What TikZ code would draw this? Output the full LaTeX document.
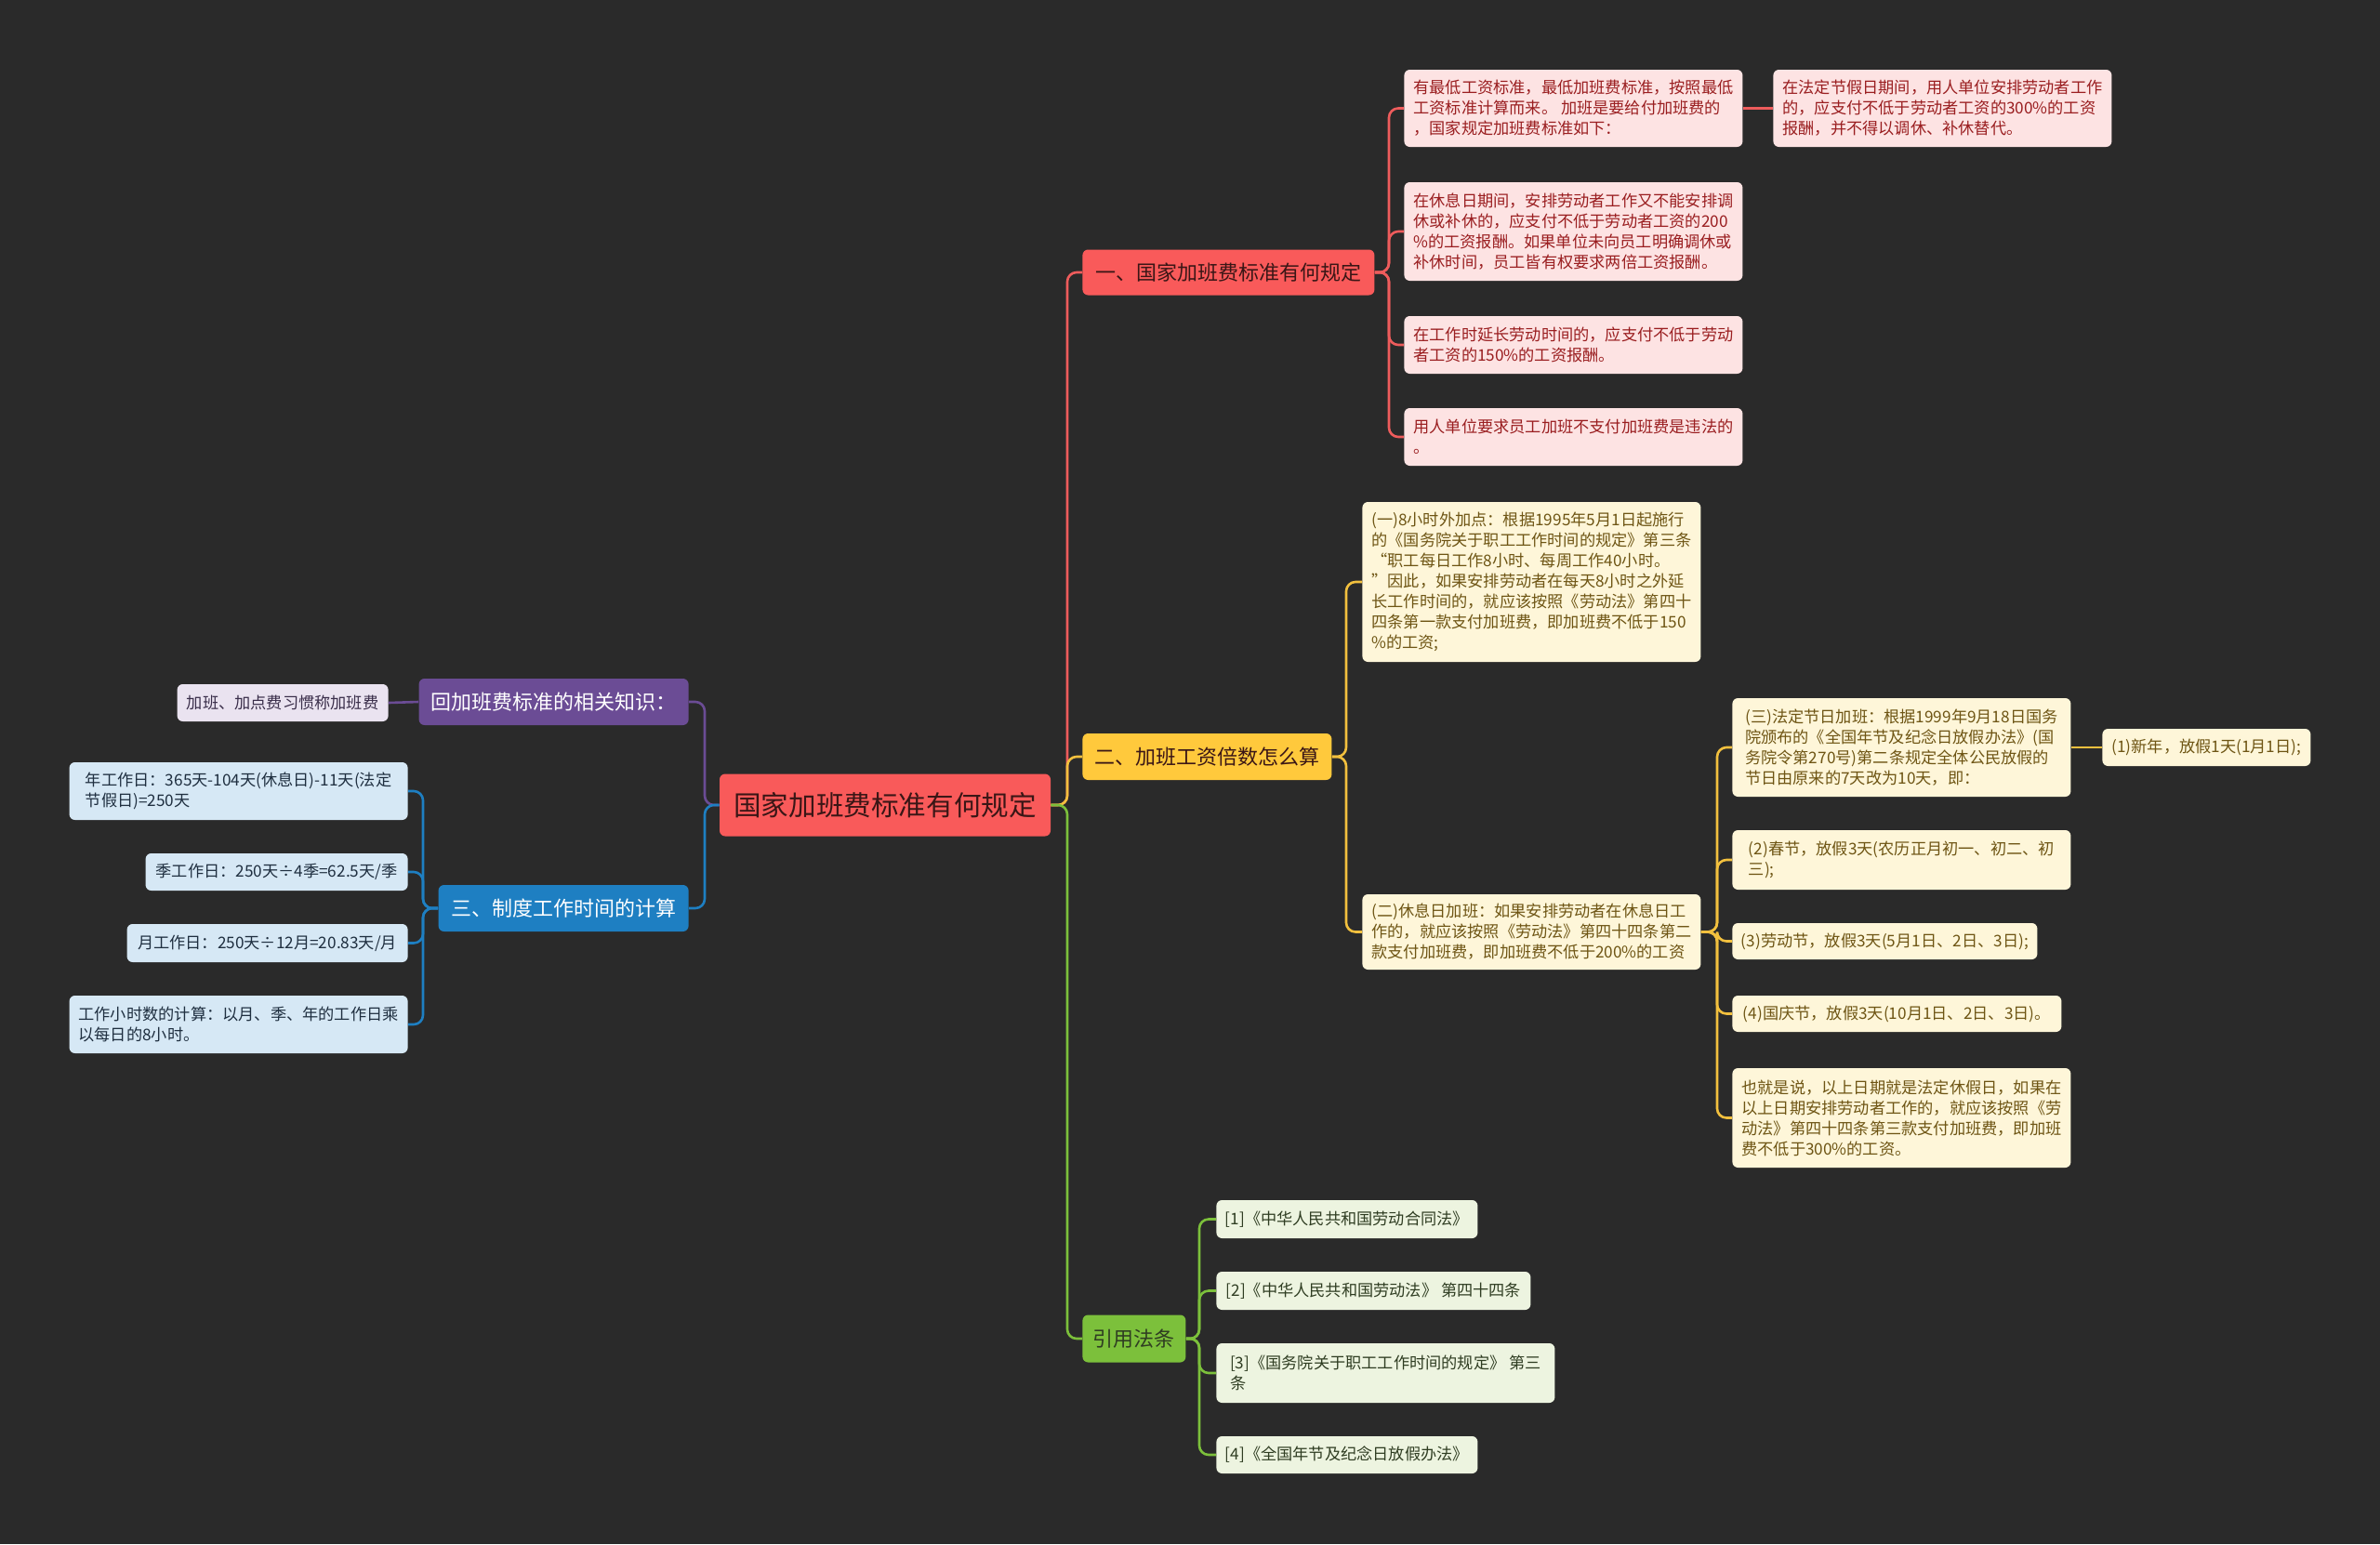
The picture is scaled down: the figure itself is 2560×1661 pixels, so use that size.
\documentclass[tikz,border=0pt]{standalone}
\usepackage{fontspec}
\setmainfont{Noto Sans CJK SC}
\definecolor{bg}{HTML}{2A2A2A}
\definecolor{cred}{HTML}{F95A5A}
\definecolor{credl}{HTML}{EE5C5C}
\definecolor{cpink}{HTML}{FDE3E3}
\definecolor{tpink}{HTML}{9A1E20}
\definecolor{cyel}{HTML}{FFC93C}
\definecolor{cyell}{HTML}{F2C03E}
\definecolor{cyelbox}{HTML}{FEF6D9}
\definecolor{tyel}{HTML}{6E5514}
\definecolor{cgrn}{HTML}{7CC03B}
\definecolor{cgrnbox}{HTML}{EDF4E0}
\definecolor{tgrn}{HTML}{2F3D22}
\definecolor{cpur}{HTML}{6B4C95}
\definecolor{cpurbox}{HTML}{EAE3F0}
\definecolor{tpur}{HTML}{3A2E4A}
\definecolor{cblu}{HTML}{1E7FC2}
\definecolor{cblubox}{HTML}{D6E8F5}
\definecolor{tblu}{HTML}{1F2F40}
\definecolor{troot}{HTML}{3A1616}
\tikzset{
  base/.style={rounded corners=3pt, inner xsep=4pt, inner ysep=0pt, align=left},
  leaf/.style={base, font=\fontsize{8.6}{11}\selectfont},
  pinkbox/.style={leaf, fill=cpink, text=tpink},
  yelbox/.style={leaf, fill=cyelbox, text=tyel},
  grnbox/.style={leaf, fill=cgrnbox, text=tgrn},
  purbox/.style={leaf, fill=cpurbox, text=tpur},
  blubox/.style={leaf, fill=cblubox, text=tblu},
  branch/.style={base, align=center, font=\fontsize{11}{13}\selectfont},
  conn/.style={line width=1.3pt, rounded corners=5pt},
}
\begin{document}
\begin{tikzpicture}[x=0.5pt, y=-0.5pt]
\fill[bg] (0,0) rectangle (2560,1661);
\useasboundingbox (0,0) rectangle (2560,1661);

% root
\node[base, align=center, fill=cred, text=troot, font=\fontsize{14.8}{17}\selectfont,
  minimum width=178pt, minimum height=33.5pt] (root) at (952,866) {国家加班费标准有何规定};

% branches
\node[branch, fill=cred, text=troot, minimum width=157pt, minimum height=24.5pt, anchor=west] (b1) at (1164,293) {一、国家加班费标准有何规定};
\node[branch, fill=cyel, text=troot, minimum width=134pt, minimum height=25pt, anchor=west] (b2) at (1164,814) {二、加班工资倍数怎么算};
\node[branch, fill=cgrn, text=tgrn, minimum width=55.5pt, minimum height=25.5pt, anchor=west] (b3) at (1164,1440) {引用法条};
\node[branch, fill=cpur, text=white, minimum width=145pt, minimum height=25pt, anchor=east] (gb) at (741,755) {回加班费标准的相关知识：};
\node[branch, fill=cblu, text=white, minimum width=134.5pt, minimum height=25pt, anchor=east] (hb) at (741,977) {三、制度工作时间的计算};

% branch 1 children
\node[pinkbox, minimum width=182pt, minimum height=41.5pt, anchor=west] (c1) at (1510,116.5)
  {有最低工资标准，最低加班费标准，按照最低\\工资标准计算而来。 加班是要给付加班费的\\，国家规定加班费标准如下：};
\node[pinkbox, minimum width=182pt, minimum height=41.5pt, anchor=west] (c1c) at (1907,116.5)
  {在法定节假日期间，用人单位安排劳动者工作\\的，应支付不低于劳动者工资的300\%的工资\\报酬，并不得以调休、补休替代。};
\node[pinkbox, minimum width=182pt, minimum height=53pt, anchor=west] (c2) at (1510,249)
  {在休息日期间，安排劳动者工作又不能安排调\\休或补休的，应支付不低于劳动者工资的200\\\%的工资报酬。如果单位未向员工明确调休或\\补休时间，员工皆有权要求两倍工资报酬。};
\node[pinkbox, minimum width=182pt, minimum height=31pt, anchor=west] (c3) at (1510,371)
  {在工作时延长劳动时间的，应支付不低于劳动\\者工资的150\%的工资报酬。};
\node[pinkbox, minimum width=182pt, minimum height=31pt, anchor=west] (c4) at (1510,470)
  {用人单位要求员工加班不支付加班费是违法的\\。};

% branch 2 children
\node[yelbox, minimum width=182pt, minimum height=86pt, anchor=west] (d1) at (1465,626)
  {(一)8小时外加点：根据1995年5月1日起施行\\的《国务院关于职工工作时间的规定》第三条\\“职工每日工作8小时、每周工作40小时。\\”因此，如果安排劳动者在每天8小时之外延\\长工作时间的，就应该按照《劳动法》第四十\\四条第一款支付加班费，即加班费不低于150\\\%的工资;};
\node[yelbox, minimum width=182pt, minimum height=40.5pt, anchor=west] (d2) at (1465,1002.5)
  {(二)休息日加班：如果安排劳动者在休息日工\\作的，就应该按照《劳动法》第四十四条第二\\款支付加班费，即加班费不低于200\%的工资};
\node[yelbox, minimum width=182pt, minimum height=53pt, anchor=west] (e1) at (1863,804)
  {(三)法定节日加班：根据1999年9月18日国务\\院颁布的《全国年节及纪念日放假办法》(国\\务院令第270号)第二条规定全体公民放假的\\节日由原来的7天改为10天，即：};
\node[yelbox, minimum width=112pt, minimum height=20pt, anchor=west] (e1c) at (2261,804)
  {(1)新年，放假1天(1月1日);};
\node[yelbox, minimum width=182pt, minimum height=32pt, anchor=west] (e2) at (1863,925)
  {(2)春节，放假3天(农历正月初一、初二、初\\三);};
\node[yelbox, minimum width=164pt, minimum height=19.5pt, anchor=west] (e3) at (1863,1012.5)
  {(3)劳动节，放假3天(5月1日、2日、3日);};
\node[yelbox, minimum width=177pt, minimum height=19.5pt, anchor=west] (e4) at (1863,1090.5)
  {(4)国庆节，放假3天(10月1日、2日、3日)。};
\node[yelbox, minimum width=182pt, minimum height=53.5pt, anchor=west] (e5) at (1863,1202.5)
  {也就是说，以上日期就是法定休假日，如果在\\以上日期安排劳动者工作的，就应该按照《劳\\动法》第四十四条第三款支付加班费，即加班\\费不低于300\%的工资。};

% branch 3 children
\node[grnbox, minimum width=140.5pt, minimum height=20.5pt, anchor=west] (f1) at (1308,1311.5)
  {[1]《中华人民共和国劳动合同法》};
\node[grnbox, minimum width=169pt, minimum height=20.5pt, anchor=west] (f2) at (1308,1388.5)
  {[2]《中华人民共和国劳动法》 第四十四条};
\node[grnbox, minimum width=182pt, minimum height=32pt, anchor=west] (f3) at (1308,1477)
  {[3]《国务院关于职工工作时间的规定》 第三\\条};
\node[grnbox, minimum width=140.5pt, minimum height=20pt, anchor=west] (f4) at (1308,1565)
  {[4]《全国年节及纪念日放假办法》};

% left children
\node[purbox, minimum width=113.5pt, minimum height=20pt, anchor=east] (g1) at (418,756)
  {加班、加点费习惯称加班费};
\node[blubox, minimum width=182pt, minimum height=31pt, anchor=east] (h1) at (439,851)
  {年工作日：365天-104天(休息日)-11天(法定\\节假日)=250天};
\node[blubox, minimum width=141pt, minimum height=20pt, anchor=east] (h2) at (439,938)
  {季工作日：250天÷4季=62.5天/季};
\node[blubox, minimum width=151pt, minimum height=20.5pt, anchor=east] (h3) at (439,1014.5)
  {月工作日：250天÷12月=20.83天/月};
\node[blubox, minimum width=182pt, minimum height=31pt, anchor=east] (h4) at (439,1102)
  {工作小时数的计算：以月、季、年的工作日乘\\以每日的8小时。};

% spine coordinates
\coordinate (sR) at (1148,0);
\coordinate (sL) at (758,0);
\coordinate (s1) at (1494,0);
\coordinate (s2) at (1448,0);
\coordinate (s3) at (1290,0);
\coordinate (s22) at (1847,0);
\coordinate (sH) at (455,0);

% root connectors
\draw[conn, credl] (root.east) -- (root.east -| sR) |- (b1.west);
\draw[conn, cyell] (root.east) -- (root.east -| sR) |- (b2.west);
\draw[conn, cgrn] (root.east) -- (root.east -| sR) |- (b3.west);
\draw[conn, cpur] (root.west) -- (root.west -| sL) |- (gb.east);
\draw[conn, cblu] (root.west) -- (root.west -| sL) |- (hb.east);

% branch 1
\foreach \n in {c1,c2,c3,c4}
  \draw[conn, credl] (b1.east) -- (b1.east -| s1) |- (\n.west);
\draw[conn, credl] (c1.east) -- (c1c.west);

% branch 2
\foreach \n in {d1,d2}
  \draw[conn, cyell] (b2.east) -- (b2.east -| s2) |- (\n.west);
\foreach \n in {e1,e2,e3,e4,e5}
  \draw[conn, cyell] (d2.east) -- (d2.east -| s22) |- (\n.west);
\draw[conn, cyell] (e1.east) -- (e1c.west);

% branch 3
\foreach \n in {f1,f2,f3,f4}
  \draw[conn, cgrn] (b3.east) -- (b3.east -| s3) |- (\n.west);

% left
\draw[conn, cpur] (gb.west) -- (g1.east);
\foreach \n in {h1,h2,h3,h4}
  \draw[conn, cblu] (hb.west) -- (hb.west -| sH) |- (\n.east);
\end{tikzpicture}
\end{document}
